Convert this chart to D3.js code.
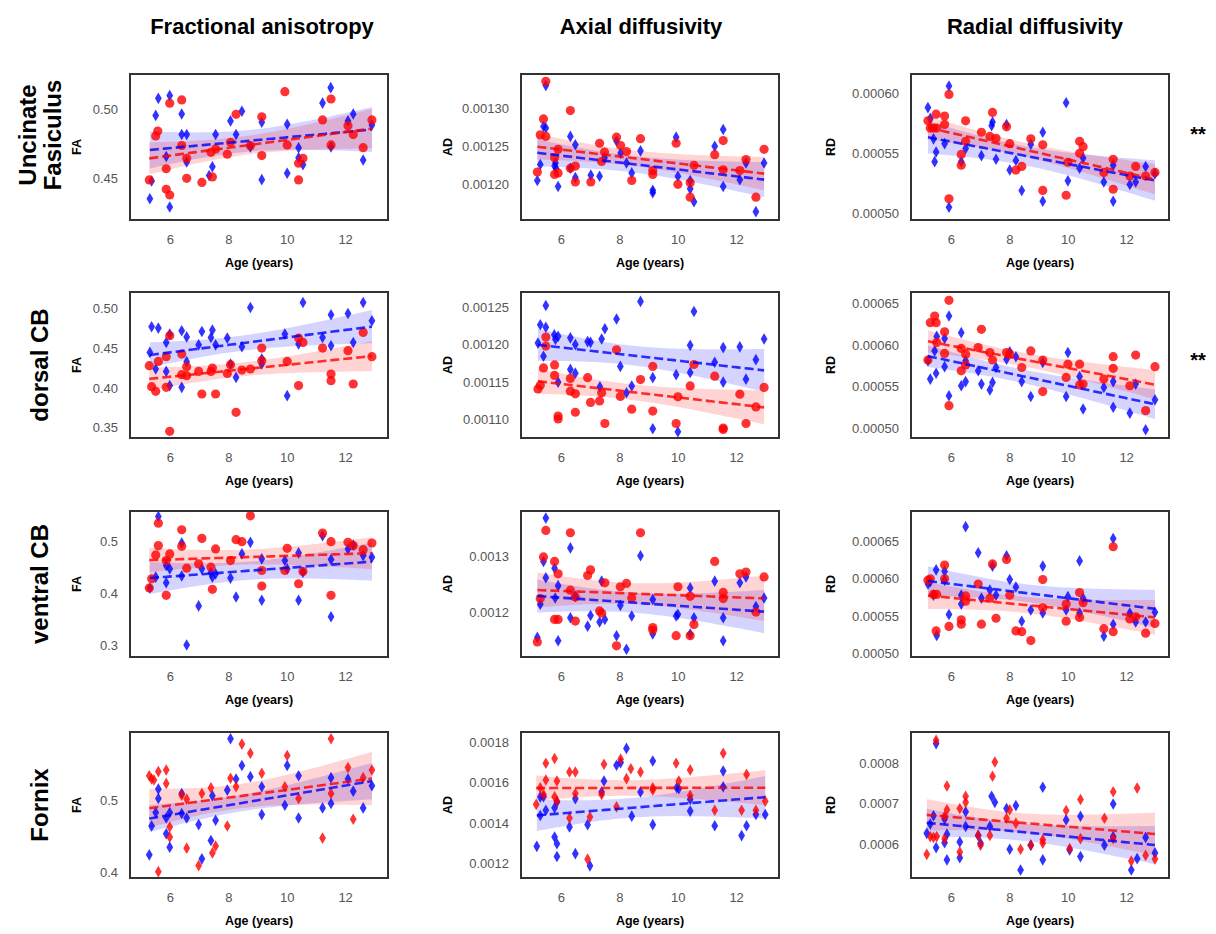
<!DOCTYPE html>
<html>
<head>
<meta charset="utf-8">
<script src="https://cdn.jsdelivr.net/npm/d3@7"></script>
<style>
  body { margin: 0; background: #fff; }
  text { font-family: "Liberation Sans", Arial, sans-serif; }
</style>
</head>
<body>
<div id="chart"></div>
<script>
// Column / row labels
const measures = ["Fractional anisotropy", "Axial diffusivity", "Radial diffusivity"];
const measureAbbr = ["FA", "AD", "RD"];
const tracts = [["Uncinate", "Fasiculus"], ["dorsal CB"], ["ventral CB"], ["Fornix"]];
const significance = ["**", "**", "", ""];

// x axis (age) shared by every panel
const xTicks = [6, 8, 10, 12];
const xLimits = [4.62, 13.45];

// FA stored as is, AD and RD stored in units of 1e-5
const valueUnits = [1, 1e-5, 1e-5];

// y limits per row / column (in stored units)
const yLimits = [
  [[0.4195, 0.5263], [115.3, 134.51], [49.44, 61.6]],
  [[0.3374, 0.5202], [107.57, 127.0], [48.8, 66.4]],
  [[0.2785, 0.5585], [112.12, 138.06], [49.5, 69.1]],
  [[0.3931, 0.5936], [113.0, 185.0], [51.85, 87.65]]
];
const yTickLabels = [
  [["0.45", "0.50"], ["0.00120", "0.00125", "0.00130"], ["0.00050", "0.00055", "0.00060"]],
  [["0.35", "0.40", "0.45", "0.50"], ["0.00110", "0.00115", "0.00120", "0.00125"], ["0.00050", "0.00055", "0.00060", "0.00065"]],
  [["0.3", "0.4", "0.5"], ["0.0012", "0.0013"], ["0.00050", "0.00055", "0.00060", "0.00065"]],
  [["0.4", "0.5"], ["0.0012", "0.0014", "0.0016", "0.0018"], ["0.0006", "0.0007", "0.0008"]]
];

// ---- Uncinate Fasiculus ----
const ufFaBlue = [[5.30,.435],[5.36,.448],[5.50,.496],[5.59,.5085],[5.86,.466],[5.98,.5105],[5.98,.429],[6.39,.497],[6.39,.482],[6.56,.482],[6.56,.462],[7.33,.452],[7.44,.4585],[7.55,.482],[8.06,.492],[8.25,.482],[8.45,.499],[8.74,.473],[9.13,.491],[9.13,.449],[10.0,.4537],[10.0,.4895],[10.39,.4724],[10.39,.465],[10.54,.46],[11.21,.505],[11.49,.5163],[11.5,.473],[12.08,.492],[12.26,.497],[12.6,.4634],[12.9,.489]];
const ufFaRed = [[5.28,.4488],[5.5,.481],[5.57,.4846],[5.86,.457],[5.86,.442],[5.98,.4378],[5.98,.5049],[6.39,.5073],[6.39,.474],[6.56,.4646],[6.56,.45],[7.08,.447],[7.39,.469],[7.44,.451],[7.55,.4715],[7.95,.4676],[8.06,.4763],[8.25,.4968],[8.74,.4739],[9.13,.4666],[9.13,.495],[9.92,.5134],[10.0,.4744],[10.39,.461],[10.39,.4488],[10.54,.4646],[11.21,.4927],[11.5,.508],[11.5,.4744],[12.08,.4885],[12.26,.482],[12.6,.4724],[12.9,.4927]];
const ufAdBlue = [[5.18,120.5],[5.28,122.6],[5.39,127.6],[5.47,133.0],[5.47,127.4],[5.77,122.4],[5.8,122.8],[5.82,122.1],[5.89,119.7],[6.31,126.3],[6.31,122.1],[6.48,125.2],[6.48,120.9],[7.01,121.2],[7.31,121.05],[7.48,123.5],[7.89,125.7],[8.03,124.1],[8.23,122.8],[8.41,121.5],[8.71,124.4],[9.13,119.2],[9.13,118.9],[9.93,126.2],[9.99,121.05],[10.41,120.5],[10.41,119.4],[10.54,117.7],[11.25,125.0],[11.54,127.2],[11.54,119.7],[12.11,120.6],[12.32,122.8],[12.66,116.4],[12.94,122.8]];
const ufAdRed = [[5.18,121.6],[5.28,126.5],[5.39,128.6],[5.47,133.55],[5.47,126.3],[5.77,123.5],[5.77,121.3],[5.89,124.6],[5.89,121.5],[6.31,129.7],[6.31,122.1],[6.48,122.4],[6.48,120.3],[7.01,120.3],[7.31,125.4],[7.38,123.0],[7.48,124.25],[7.89,126.2],[8.03,125.1],[8.23,124.3],[8.41,120.5],[8.71,126.0],[9.13,121.8],[9.13,121.3],[9.93,125.4],[9.99,120.0],[10.41,120.2],[10.41,118.3],[10.54,122.5],[11.25,123.9],[11.54,125.75],[11.54,121.9],[12.11,121.8],[12.32,123.25],[12.66,118.3],[12.94,124.6]];
const ufRdBlue = [[5.2,58.8],[5.28,57.9],[5.39,56.2],[5.48,55.1],[5.43,54.3],[5.77,55.8],[5.92,60.6],[5.92,50.5],[6.34,54.3],[6.49,55.4],[7.03,54.8],[7.38,57.3],[7.41,57.6],[7.53,54.5],[7.89,57.4],[8.0,53.6],[8.21,54.4],[8.41,51.9],[8.72,55.75],[9.13,56.75],[9.13,51.0],[9.93,59.2],[9.99,52.7],[10.39,53.75],[10.51,54.6],[11.22,52.6],[11.54,54.0],[11.54,51.0],[12.11,52.4],[12.31,52.6],[12.65,53.9],[12.97,53.3]];
const ufRdRed = [[5.2,57.7],[5.28,57.1],[5.39,57.1],[5.48,58.25],[5.5,57.1],[5.77,57.4],[5.77,58.1],[5.92,59.9],[5.92,51.2],[6.34,54.9],[6.34,54.0],[6.49,57.7],[6.49,56.0],[7.03,56.75],[7.32,56.4],[7.41,58.4],[7.53,56.25],[7.89,57.2],[8.0,55.8],[8.21,53.6],[8.41,53.9],[8.72,56.2],[9.13,55.7],[9.13,51.9],[9.93,51.5],[9.99,54.25],[10.39,56.0],[10.51,55.55],[10.39,55.0],[11.22,53.4],[11.54,54.5],[11.54,52.0],[12.11,53.1],[12.31,53.9],[12.65,53.1],[12.97,53.4]];

// ---- dorsal CB ----
const dcbFaBlue = [[5.3,.4446],[5.36,.4767],[5.5,.4238],[5.59,.475],[5.86,.457],[5.86,.4208],[5.98,.4675],[5.98,.403],[6.39,.4717],[6.39,.4008],[6.56,.464],[6.56,.433],[6.97,.454],[7.08,.4708],[7.39,.4633],[7.44,.4725],[7.55,.454],[7.95,.4625],[8.06,.43],[8.25,.4133],[8.45,.4517],[8.74,.5008],[9.13,.4363],[9.13,.43],[9.92,.4675],[10.0,.3904],[10.39,.455],[10.54,.5071],[11.21,.4633],[11.5,.4917],[11.5,.4529],[12.08,.4933],[12.26,.457],[12.6,.5071],[12.9,.4842]];
const dcbFaRed = [[5.28,.4279],[5.36,.4017],[5.5,.3958],[5.59,.4333],[5.86,.4392],[5.86,.4008],[5.98,.4654],[5.98,.3458],[6.39,.4425],[6.39,.4167],[6.56,.4267],[6.56,.4154],[6.97,.4208],[7.08,.3925],[7.39,.4208],[7.44,.425],[7.55,.3925],[7.95,.4183],[8.06,.4292],[8.25,.3696],[8.45,.4225],[8.74,.4238],[9.13,.45],[9.13,.4342],[10.0,.4333],[10.39,.403],[10.39,.4625],[10.54,.4571],[11.21,.45],[11.5,.4175],[11.5,.4092],[12.08,.4467],[12.26,.405],[12.6,.4696],[12.9,.4392]];
const dcbAdBlue = [[5.2,120.2],[5.28,122.65],[5.39,118.45],[5.47,125.2],[5.47,122.3],[5.76,121.3],[5.8,120.7],[5.89,121.1],[5.89,115.0],[6.31,120.9],[6.31,116.7],[6.48,116.2],[6.48,120.0],[6.9,120.4],[7.0,120.3],[7.38,120.75],[7.49,122.1],[7.32,114.4],[7.89,123.4],[8.02,117.1],[8.23,113.6],[8.41,114.5],[8.71,125.75],[9.13,115.6],[9.13,108.8],[9.93,116.0],[9.99,108.4],[10.41,116.3],[10.41,119.9],[10.54,124.4],[11.25,117.65],[11.54,119.6],[11.54,115.0],[12.11,119.7],[12.32,115.4],[12.66,118.0],[12.94,120.75]];
const dcbAdRed = [[5.2,114.1],[5.28,114.6],[5.39,116.9],[5.47,121.0],[5.47,119.8],[5.77,117.3],[5.77,115.9],[5.89,110.5],[5.89,110.1],[6.31,115.5],[6.31,113.8],[6.48,113.45],[6.48,111.0],[6.9,115.6],[7.0,112.3],[7.31,112.5],[7.38,113.6],[7.49,109.5],[7.89,119.3],[8.02,113.1],[8.41,111.4],[8.71,115.35],[9.13,117.1],[9.13,111.15],[9.93,109.5],[9.99,113.05],[10.41,114.5],[10.54,117.35],[11.25,115.8],[11.54,108.9],[11.54,108.7],[12.11,113.4],[12.32,109.5],[12.66,111.7],[12.94,114.3]];
const dcbRdBlue = [[5.2,58.1],[5.28,55.9],[5.43,59.3],[5.48,56.6],[5.5,61.05],[5.77,57.4],[5.77,60.8],[5.92,63.5],[5.92,53.9],[6.34,61.5],[6.34,55.1],[6.49,55.6],[6.49,58.1],[6.92,56.9],[7.03,55.3],[7.32,54.6],[7.41,55.5],[7.53,57.3],[7.89,58.3],[8.0,59.2],[8.21,58.6],[8.41,55.6],[8.72,53.8],[9.13,57.9],[9.93,53.8],[9.99,59.1],[10.39,56.2],[10.51,52.3],[11.22,54.9],[11.54,55.6],[11.54,52.5],[12.11,51.8],[12.31,55.3],[12.65,49.8],[12.97,53.4]];
const dcbRdRed = [[5.2,58.2],[5.28,62.7],[5.43,63.5],[5.48,62.7],[5.5,60.3],[5.77,61.6],[5.77,59.0],[5.92,65.4],[5.92,52.7],[6.34,59.6],[6.34,56.9],[6.49,58.9],[6.49,57.6],[6.92,59.7],[7.03,61.9],[7.32,59.1],[7.41,58.2],[7.89,59.1],[8.0,58.9],[8.41,57.3],[8.72,59.3],[9.13,58.2],[9.13,54.4],[9.93,56.1],[9.99,57.7],[10.39,57.7],[10.51,55.3],[10.39,55.2],[11.22,55.9],[11.54,58.6],[11.54,57.2],[12.11,55.1],[12.31,58.8],[12.65,52.1],[12.97,57.4]];

// ---- ventral CB ----
const vcbFaBlue = [[5.3,.4108],[5.5,.4317],[5.59,.548],[5.86,.454],[5.86,.421],[5.98,.4476],[6.39,.497],[6.39,.4337],[6.56,.3016],[6.97,.3765],[7.08,.4476],[7.39,.44],[7.44,.4317],[7.55,.438],[8.06,.4298],[8.25,.3937],[8.45,.4762],[8.74,.4984],[9.13,.4667],[9.13,.3873],[9.92,.4635],[10.0,.4476],[10.39,.4781],[10.39,.3873],[10.54,.4413],[11.21,.5111],[11.5,.4654],[11.5,.3556],[12.08,.4857],[12.26,.4933],[12.6,.473],[12.9,.4698]];
const vcbFaRed = [[5.28,.4108],[5.36,.4286],[5.5,.4743],[5.59,.5352],[5.59,.4921],[5.86,.3968],[5.86,.4635],[5.98,.4762],[6.39,.5225],[6.39,.4908],[6.56,.4489],[6.97,.4571],[7.08,.506],[7.39,.4508],[7.44,.4083],[7.55,.4857],[8.06,.4635],[8.25,.5035],[8.45,.4997],[8.74,.5492],[9.13,.4444],[9.13,.4146],[9.92,.4444],[10.0,.487],[10.39,.419],[10.54,.4425],[11.21,.5162],[11.5,.4997],[11.5,.3968],[12.08,.4984],[12.26,.4921],[12.6,.4844],[12.9,.4971]];
const vcbAdBlue = [[5.18,115.6],[5.28,121.5],[5.39,129.1],[5.47,136.8],[5.47,126.2],[5.77,127.9],[5.79,122.6],[5.89,124.8],[5.89,115.0],[6.31,131.5],[6.31,119.1],[6.48,122.9],[6.9,117.6],[7.0,119.5],[7.31,118.35],[7.38,125.6],[7.49,118.8],[7.89,115.9],[8.02,121.3],[8.23,113.5],[8.41,119.4],[8.71,130.1],[9.13,122.35],[9.13,116.2],[9.93,119.4],[9.99,119.7],[10.41,124.4],[10.41,116.2],[10.54,119.1],[11.25,125.6],[11.54,119.1],[11.54,115.0],[12.11,125.3],[12.32,126.35],[12.66,121.1],[12.94,122.6]];
const vcbAdRed = [[5.18,114.8],[5.28,122.5],[5.39,129.9],[5.47,134.6],[5.77,129.1],[5.77,118.8],[5.89,126.9],[5.89,118.8],[6.31,134.2],[6.31,124.0],[6.48,122.8],[6.48,118.5],[6.9,126.6],[7.0,127.6],[7.31,120.3],[7.38,119.9],[7.49,125.3],[7.89,114.1],[8.02,124.6],[8.23,125.2],[8.41,122.6],[8.71,134.2],[9.13,117.35],[9.13,116.9],[9.93,115.9],[9.99,124.6],[10.41,122.9],[10.41,115.9],[10.54,117.9],[11.25,129.1],[11.54,123.6],[11.54,122.5],[12.11,126.9],[12.32,127.2],[12.66,120.1],[12.94,126.35]];
const vcbRdBlue = [[5.2,59.3],[5.28,59.6],[5.39,57.8],[5.48,61.2],[5.5,52.4],[5.77,61.0],[5.77,59.8],[5.92,55.2],[6.34,56.6],[6.34,57.8],[6.49,67.0],[6.92,63.5],[7.03,57.4],[7.32,58.5],[7.41,61.7],[7.53,57.8],[7.89,63.1],[8.0,59.9],[8.21,58.9],[8.41,54.3],[8.72,55.8],[9.13,61.7],[9.13,55.4],[9.93,55.8],[9.99,57.6],[10.39,62.4],[10.39,55.4],[10.51,57.4],[11.22,52.3],[11.54,65.4],[11.54,53.9],[12.11,55.4],[12.31,54.2],[12.65,54.2],[12.97,55.5]];
const vcbRdRed = [[5.2,59.8],[5.28,60.0],[5.39,57.9],[5.48,53.0],[5.5,57.9],[5.77,61.85],[5.77,60.0],[5.92,53.6],[6.34,54.5],[6.34,53.9],[6.49,57.7],[6.49,57.0],[6.92,59.3],[7.03,53.9],[7.32,57.4],[7.41,62.0],[7.53,54.7],[7.89,62.6],[8.0,57.8],[8.21,53.0],[8.41,52.9],[8.72,51.7],[9.13,59.9],[9.13,56.1],[9.93,56.6],[9.93,54.3],[10.39,58.15],[10.51,56.8],[10.39,54.8],[11.22,53.3],[11.54,64.3],[11.54,52.9],[12.11,54.6],[12.31,54.9],[12.65,52.7],[12.97,54.0]];

// ---- Fornix ----
const fxFaBlue = [[5.28,.4249],[5.36,.4645],[5.5,.483],[5.59,.5152],[5.59,.5023],[5.86,.4756],[5.86,.4539],[5.98,.483],[5.98,.4355],[6.39,.5092],[6.39,.4816],[6.56,.4756],[6.97,.4664],[7.08,.4194],[7.39,.4447],[7.44,.506],[7.55,.4724],[7.95,.5138],[8.06,.5843],[8.25,.529],[8.45,.5475],[8.74,.5323],[9.13,.4802],[9.13,.5184],[9.92,.4931],[10.0,.5475],[10.39,.5336],[10.39,.4756],[11.21,.4894],[11.5,.4954],[11.5,.5309],[12.08,.529],[12.26,.5124],[12.6,.4894],[12.9,.5198]];
const fxFaRed = [[5.28,.5336],[5.36,.529],[5.44,.5276],[5.59,.5392],[5.59,.4018],[5.86,.5415],[5.86,.523],[5.98,.4631],[5.98,.4493],[6.39,.5069],[6.56,.4341],[6.56,.5014],[6.97,.4101],[7.08,.5092],[7.39,.517],[7.44,.4276],[7.55,.4369],[7.95,.4645],[8.06,.53],[8.25,.5184],[8.45,.577],[8.74,.5645],[9.13,.5369],[9.92,.5184],[10.0,.5613],[10.39,.5023],[11.21,.4479],[11.5,.5843],[11.5,.5092],[12.08,.5447],[12.26,.4737],[12.6,.5309],[12.9,.5415]];
const fxAdBlue = [[5.16,128.6],[5.28,143.8],[5.28,153.0],[5.39,153.1],[5.47,146.4],[5.77,147.6],[5.77,133.2],[5.85,129.9],[5.85,123.6],[5.85,150.5],[6.28,138.2],[6.48,152.1],[6.48,125.0],[6.9,139.3],[6.98,119.0],[7.38,155.4],[7.46,160.8],[7.89,168.6],[8.03,169.9],[8.23,176.9],[8.41,143.5],[8.71,155.4],[9.13,170.7],[9.13,139.3],[9.95,157.5],[10.02,157.0],[10.41,151.7],[10.41,146.0],[11.25,138.8],[11.54,165.8],[11.54,158.0],[12.17,133.9],[12.34,138.8],[12.66,144.3],[12.98,144.3]];
const fxAdRed = [[5.14,149.3],[5.28,157.5],[5.39,154.2],[5.47,169.6],[5.47,161.3],[5.77,171.9],[5.77,153.1],[5.85,160.8],[5.85,150.9],[6.28,165.3],[6.28,142.6],[6.48,165.3],[6.48,154.7],[6.9,122.3],[6.98,143.1],[7.38,154.2],[7.46,169.1],[7.89,148.1],[8.03,171.6],[8.23,162.0],[8.38,166.9],[8.71,165.3],[9.13,157.5],[9.13,156.4],[9.93,169.6],[10.02,160.8],[10.41,166.3],[10.41,153.7],[11.25,146.4],[11.54,174.5],[12.17,146.4],[12.34,164.1],[12.66,146.4],[12.98,150.9]];
const fxRdBlue = [[5.16,62.8],[5.28,65.1],[5.39,67.1],[5.48,84.8],[5.48,59.3],[5.77,60.5],[5.77,66.3],[5.85,62.6],[5.85,56.3],[6.29,60.7],[6.29,56.8],[6.49,68.1],[6.49,64.5],[6.92,62.3],[7.0,60.4],[7.38,71.9],[7.49,70.4],[7.32,64.5],[7.89,68.9],[8.0,58.9],[8.21,69.6],[8.37,53.8],[8.72,59.9],[9.13,74.1],[9.13,56.3],[9.93,66.1],[10.05,58.7],[10.42,67.0],[10.42,57.1],[11.24,59.9],[11.54,70.0],[11.54,62.0],[12.16,53.8],[12.36,56.6],[12.65,61.8],[12.97,58.0]];
const fxRdRed = [[5.16,57.65],[5.28,62.0],[5.39,61.8],[5.48,85.6],[5.5,62.0],[5.77,67.0],[5.77,61.5],[5.85,74.4],[5.85,68.6],[6.29,68.9],[6.29,58.2],[6.49,71.9],[6.49,70.4],[6.92,62.3],[7.0,59.9],[7.32,62.3],[7.41,76.8],[7.49,80.3],[7.89,66.5],[8.0,68.6],[8.21,65.3],[8.37,58.9],[8.72,59.9],[9.13,61.2],[9.13,60.4],[9.93,68.4],[10.05,59.1],[10.42,71.1],[10.42,61.5],[11.24,66.5],[11.54,73.0],[11.54,61.5],[12.16,56.0],[12.36,73.9],[12.65,57.4],[12.97,56.5]];

// panel table: [row][col] -> [blue, red]
const panels = [
  [[ufFaBlue, ufFaRed], [ufAdBlue, ufAdRed], [ufRdBlue, ufRdRed]],
  [[dcbFaBlue, dcbFaRed], [dcbAdBlue, dcbAdRed], [dcbRdBlue, dcbRdRed]],
  [[vcbFaBlue, vcbFaRed], [vcbAdBlue, vcbAdRed], [vcbRdBlue, vcbRdRed]],
  [[fxFaBlue, fxFaRed], [fxAdBlue, fxAdRed], [fxRdBlue, fxRdRed]]
];

// layout
const svgWidth = 1216, svgHeight = 934;
const colLeft = [130, 521, 911];
const rowTop = [74, 292, 511, 732];
const pw = 258, ph = 146;
const yTitleOffset = [49, 69, 76];
const blue = "#0000ff", red = "#ff0000";

let svg = d3.select("#chart")
  .append("svg")
  .attr("width", svgWidth)
  .attr("height", svgHeight);

// column titles
svg.selectAll(".coltitle")
  .data(measures)
  .enter()
  .append("text")
  .attr("x", (d, i) => [262, 641, 1035][i])
  .attr("y", 34)
  .attr("text-anchor", "middle")
  .attr("font-size", 22)
  .attr("font-weight", "bold")
  .text(d => d);

// row titles (rotated)
tracts.forEach((lines, r) => {
  let cy = rowTop[r] + ph / 2 - (r == 0 ? 12 : 0);
  let g = svg.append("g").attr("transform", `translate(40,${cy}) rotate(-90)`);
  lines.forEach((ln, k) => {
    g.append("text")
      .attr("x", 0)
      .attr("y", (k - (lines.length - 1) / 2) * 25 + 8)
      .attr("text-anchor", "middle")
      .attr("font-size", 24)
      .attr("font-weight", "bold")
      .text(ln);
  });
  if (significance[r]) {
    svg.append("text")
      .attr("x", 1198)
      .attr("y", rowTop[r] + ph / 2 + 2 - (r == 0 ? 8 : 0))
      .attr("text-anchor", "middle")
      .attr("font-size", 20)
      .attr("font-weight", "bold")
      .text(significance[r]);
  }
});

// simple OLS fit with 95% confidence band
function regression(points) {
  let n = points.length;
  let mx = d3.mean(points, d => d[0]), my = d3.mean(points, d => d[1]);
  let sxx = d3.sum(points, d => (d[0] - mx) ** 2);
  let sxy = d3.sum(points, d => (d[0] - mx) * (d[1] - my));
  let b = sxy / sxx, a = my - b * mx;
  let s = Math.sqrt(d3.sum(points, d => (d[1] - a - b * d[0]) ** 2) / (n - 2));
  let t = 2.03;
  let [x0, x1] = d3.extent(points, d => d[0]);
  return d3.range(0, 61).map(i => {
    let x = x0 + (x1 - x0) * i / 60;
    let yh = a + b * x;
    let se = s * Math.sqrt(1 / n + (x - mx) ** 2 / sxx);
    return { x: x, y: yh, lo: yh - t * se, hi: yh + t * se };
  });
}

const diamondPath = "M0,-5.8L3.4,0L0,5.8L-3.4,0Z";

panels.forEach((row, r) => {
  row.forEach((groups, c) => {
    let left = colLeft[c], top = rowTop[r];
    let xScale = d3.scaleLinear().domain(xLimits).range([left, left + pw]);
    let yScale = d3.scaleLinear().domain(yLimits[r][c]).range([top + ph, top]);
    let g = svg.append("g");

    // confidence bands
    let fits = groups.map(regression);
    let area = d3.area()
      .x(d => xScale(d.x))
      .y0(d => yScale(d.lo))
      .y1(d => yScale(d.hi));
    fits.forEach((f, k) => {
      g.append("path")
        .attr("d", area(f))
        .attr("fill", k == 0 ? blue : red)
        .attr("fill-opacity", 0.17);
    });

    // points: blue diamonds, red circles (diamonds for Fornix)
    groups.forEach((pts, k) => {
      let col = k == 0 ? blue : red;
      let useDiamond = k == 0 || r == 3;
      let sel = g.selectAll(null).data(pts).enter();
      if (useDiamond) {
        sel.append("path")
          .attr("d", diamondPath)
          .attr("transform", d => `translate(${xScale(d[0])},${yScale(d[1])})`)
          .attr("fill", col)
          .attr("fill-opacity", 0.8);
      } else {
        sel.append("circle")
          .attr("cx", d => xScale(d[0]))
          .attr("cy", d => yScale(d[1]))
          .attr("r", 4.6)
          .attr("fill", col)
          .attr("fill-opacity", 0.8);
      }
    });

    // regression lines
    let line = d3.line().x(d => xScale(d.x)).y(d => yScale(d.y));
    fits.forEach((f, k) => {
      g.append("path")
        .attr("d", line(f))
        .attr("fill", "none")
        .attr("stroke", k == 0 ? blue : red)
        .attr("stroke-opacity", 0.8)
        .attr("stroke-width", 2.6)
        .attr("stroke-dasharray", "9,4");
    });

    // frame
    g.append("rect")
      .attr("x", left).attr("y", top)
      .attr("width", pw).attr("height", ph)
      .attr("fill", "none")
      .attr("stroke", "#333")
      .attr("stroke-width", 2);

    // x ticks
    g.selectAll(".xt").data(xTicks).enter()
      .append("text")
      .attr("x", d => xScale(d))
      .attr("y", top + ph + 24)
      .attr("text-anchor", "middle")
      .attr("font-size", 13)
      .attr("fill", "#555")
      .text(d => d);

    // y ticks
    g.selectAll(".yt").data(yTickLabels[r][c]).enter()
      .append("text")
      .attr("x", left - 12)
      .attr("y", d => yScale(+d / valueUnits[c]) + 4.5)
      .attr("text-anchor", "end")
      .attr("font-size", 13)
      .attr("fill", "#555")
      .text(d => d);

    // axis titles
    g.append("text")
      .attr("x", left + pw / 2)
      .attr("y", top + ph + 47)
      .attr("text-anchor", "middle")
      .attr("font-size", 12.5)
      .attr("font-weight", "bold")
      .text("Age (years)");
    g.append("text")
      .attr("transform", `translate(${left - yTitleOffset[c]},${top + ph / 2}) rotate(-90)`)
      .attr("text-anchor", "middle")
      .attr("font-size", 12.5)
      .attr("font-weight", "bold")
      .text(measureAbbr[c]);
  });
});
</script>
</body>
</html>
